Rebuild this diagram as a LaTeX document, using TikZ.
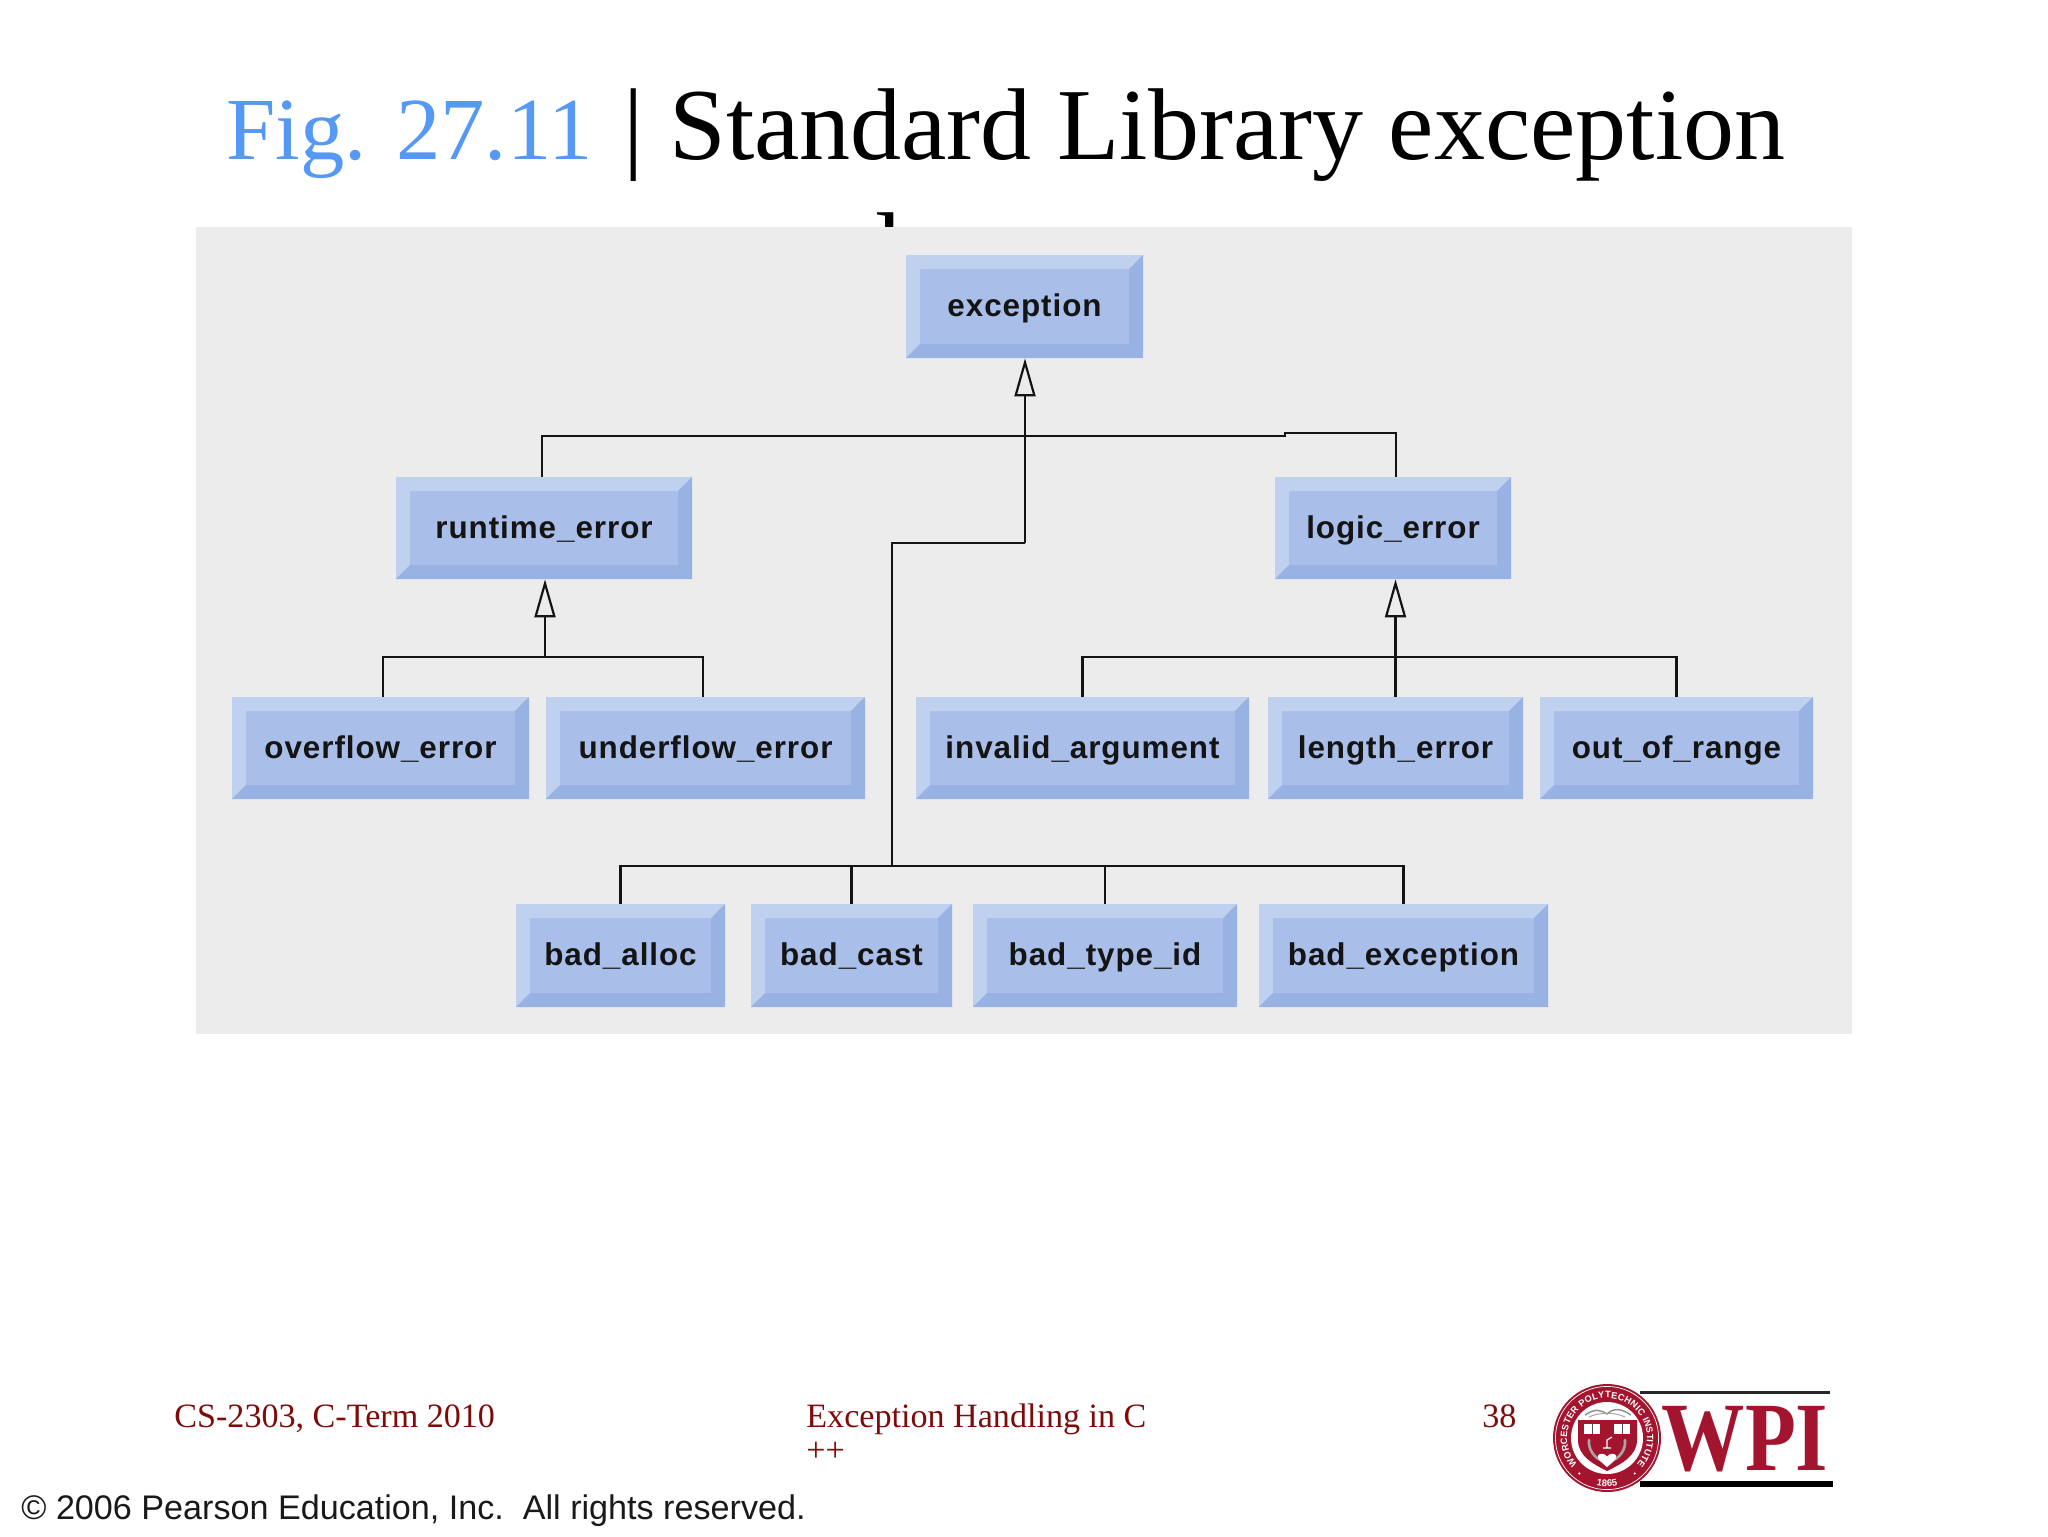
\documentclass[tikz,border=0pt]{standalone}
\usepackage{fontspec}
\usepackage{graphicx}
\setmainfont{Liberation Serif}
\newfontfamily\boxfont[LetterSpace=3]{Liberation Sans}
\newfontfamily\arialf{Liberation Sans}
\usetikzlibrary{arrows.meta,decorations.text}
\definecolor{panelgray}{HTML}{ECECEC}
\definecolor{bevinner}{HTML}{A9BEE8}
\definecolor{bevlight}{HTML}{BFD1EE}
\definecolor{bevdark}{HTML}{97B2E3}
\definecolor{figblue}{HTML}{5599F5}
\definecolor{footred}{HTML}{7F0A0A}
\definecolor{wpired}{HTML}{A3152F}
\tikzset{
  bevbox/.style={rectangle,inner sep=0pt,draw=none,font=\boxfont\bfseries\fontsize{15.7}{17}\selectfont,text=black!92,text height=14.5pt,text depth=4.5pt,
    path picture={
      \coordinate (bsw) at (path picture bounding box.south west);
      \coordinate (bse) at (path picture bounding box.south east);
      \coordinate (bnw) at (path picture bounding box.north west);
      \coordinate (bne) at (path picture bounding box.north east);
      \fill[bevinner] (bsw) rectangle (bne);
      \fill[bevlight] (bsw)--(bnw)--(bne)--([shift={(-7pt,-7pt)}]bne)--([shift={(7pt,-7pt)}]bnw)--([shift={(7pt,7pt)}]bsw)--cycle;
      \fill[bevdark] (bsw)--(bse)--(bne)--([shift={(-7pt,-7pt)}]bne)--([shift={(-7pt,7pt)}]bse)--([shift={(7pt,7pt)}]bsw)--cycle;
    }},
  conn/.style={draw=black!92,line width=1.1pt},
  inh/.style={conn,-{Triangle[open,length=19pt,width=10.5pt]}},
  foot/.style={anchor=base west,inner sep=0pt,text=footred,font=\fontsize{17.05}{20}\selectfont},
  titletext/.style={anchor=base west,inner sep=0pt,font=\fontsize{51}{54}\selectfont},
}
\begin{document}
\begin{tikzpicture}[x=0.5pt,y=-0.5pt]
\useasboundingbox (0,0) rectangle (2048,1536);
\fill[white] (0,0) rectangle (2048,1536);
% title
\node[anchor=base west,inner sep=0pt,font=\fontsize{44.3}{48}\selectfont,text=figblue] (figlabel) at (226,159) {Fig. 27.11};
\node[titletext] (titlemain) at (623,159) {| Standard Library exception};
\node[titletext] (cutoff) at (875,283) {l};
% panel
\fill[panelgray] (196,227) rectangle (1852,1034);
% boxes
\node[bevbox,minimum width=118.5pt,minimum height=51.5pt] (exception) at (1024.5,306.5) {exception};
\node[bevbox,minimum width=148pt,minimum height=51pt] (runtime) at (544,528) {runtime\_error};
\node[bevbox,minimum width=118pt,minimum height=51pt] (logic) at (1393,528) {logic\_error};
\node[bevbox,minimum width=148.5pt,minimum height=51pt] (overflow) at (380.5,748) {overflow\_error};
\node[bevbox,minimum width=159.5pt,minimum height=51pt] (underflow) at (705.5,748) {underflow\_error};
\node[bevbox,minimum width=166.5pt,minimum height=51pt] (invalid) at (1082.5,748) {invalid\_argument};
\node[bevbox,minimum width=127.5pt,minimum height=51pt] (length) at (1395.5,748) {length\_error};
\node[bevbox,minimum width=136.5pt,minimum height=51pt] (outrange) at (1676.5,748) {out\_of\_range};
\node[bevbox,minimum width=104.5pt,minimum height=51.5pt] (badalloc) at (620.5,955.5) {bad\_alloc};
\node[bevbox,minimum width=100.5pt,minimum height=51.5pt] (badcast) at (851.5,955.5) {bad\_cast};
\node[bevbox,minimum width=132pt,minimum height=51.5pt] (badtype) at (1105,955.5) {bad\_type\_id};
\node[bevbox,minimum width=144.5pt,minimum height=51.5pt] (badexc) at (1403.5,955.5) {bad\_exception};
% junctions
\coordinate (busTop) at (1025,436);
\coordinate (stepA) at (1285,436);
\coordinate (stepB) at (1285,433);
\coordinate (elbowA) at (1025,543);
\coordinate (elbowB) at (892,543);
\coordinate (busBad) at (892,866);
\coordinate (busRun) at (545,657);
\coordinate (busLog) at (1395.5,657);
% connectors
\draw[inh] (elbowA) -- ([xshift=0.25pt]exception.south);
\draw[conn] (elbowA) -- (elbowB) -- (busBad);
\draw[conn] ([xshift=-1pt]runtime.north) |- (busTop) -- (stepA) -- (stepB) -| ([xshift=1.5pt]logic.north);
\draw[inh] (busRun) -- ([xshift=0.5pt]runtime.south);
\draw[conn] ([xshift=1.25pt]overflow.north) |- (busRun) -| ([xshift=-1.25pt]underflow.north);
\draw[inh] (length.north) -- ([xshift=1.25pt]logic.south);
\draw[conn] (invalid.north) |- (busLog) -| (outrange.north);
\draw[conn] (badalloc.north) |- (busBad) -| (badexc.north);
\draw[conn] (badcast.north) -- (badcast.north |- busBad);
\draw[conn] (badtype.north) -- (badtype.north |- busBad);
% footer
\node[foot] (footleft) at (174,1427) {CS-2303, C-Term 2010};
\node[foot] (footmid) at (806,1427) {Exception Handling in C};
\node[foot] (footplus) at (806,1461) {++};
\node[foot] (footnum) at (1482,1427) {38};
\node[anchor=base west,inner sep=0pt,font=\arialf\fontsize{17.07}{20}\selectfont,text=black!90] (copyr) at (21,1519) {© 2006 Pearson Education, Inc.\ \ All rights reserved.};
% logo
\node[anchor=base,inner sep=0pt,text=wpired,font=\bfseries\fontsize{49}{52}\selectfont] (wpi) at (1745,1470) {\scalebox{0.85}[1]{WPI}};
\coordinate (ruleAa) at (1640,1392);
\coordinate (ruleAb) at (1830,1392);
\coordinate (ruleBa) at (1640,1484);
\coordinate (ruleBb) at (1833,1484);
\draw[black!85,line width=1.5pt] (ruleAa) -- (ruleAb);
\draw[black,line width=2.6pt] (ruleBa) -- (ruleBb);
\coordinate (sealc) at (1607,1438);
\begin{scope}[shift={(sealc)},x=1pt,y=1pt]
  \fill[wpired] (0,0) circle (27pt);
  \draw[white,line width=0.35pt] (0,0) circle (25.8pt);
  \fill[white] (0,0) circle (18pt);
  \path[decorate,decoration={text along path,text align=fit to path,
     text={|\arialf\bfseries\fontsize{4.6}{5}\selectfont\color{white}|WORCESTER POLYTECHNIC INSTITUTE}}]
     (222:20pt) arc[start angle=222,end angle=-42,radius=20pt];
  \path[decorate,decoration={text along path,text align=center,
     text={|\arialf\bfseries\fontsize{4.8}{5}\selectfont\color{white}|1865}}]
     (245:24.3pt) arc[start angle=245,end angle=295,radius=24.3pt];
  \fill[white] (232:22.5pt) circle (0.6pt);
  \fill[white] (308:22.5pt) circle (0.6pt);
  % shield
  \fill[wpired] (-14.5,9) -- (15,9) -- (15,-1) .. controls (15,-9) and (7,-13) .. (0,-16.5) .. controls (-7,-13) and (-14.5,-9) .. (-14.5,-1) -- cycle;
  % motto scroll
  \draw[black!45,line width=0.7pt] (-11,11.5) .. controls (-6,15) and (-3,14) .. (0,12) .. controls (3,15) and (7,15) .. (12,11.5);
  \draw[black!35,line width=0.5pt] (-9,10.5) .. controls (-4,13) and (4,13) .. (9,10.5);
  % books
  \fill[white] (-11.5,2) rectangle (-3.5,7);
  \fill[white] (3.5,2) rectangle (11.5,7);
  \draw[black!70,line width=0.3pt] (-7.5,2) -- (-7.5,7) (7.5,2) -- (7.5,7);
  % laurel
  \draw[black!35,line width=1.3pt,line cap=round] (-9,-1) .. controls (-9.5,-6) and (-6,-10) .. (-3,-11);
  \draw[black!35,line width=1.3pt,line cap=round] (9,-1) .. controls (9.5,-6) and (6,-10) .. (3,-11);
  % instrument
  \draw[white,line width=0.6pt] (-2,-5) -- (2,-5) (0,-5) -- (0,-1) -- (2.5,0.5);
  % heart
  \fill[white] (0,-14.5) .. controls (-3,-12) and (-5,-10.5) .. (-4.5,-8.8) .. controls (-4,-7.5) and (-1,-7.5) .. (0,-9.3) .. controls (1,-7.5) and (4,-7.5) .. (4.5,-8.8) .. controls (5,-10.5) and (3,-12) .. (0,-14.5) -- cycle;
\end{scope}
\end{tikzpicture}
\end{document}
